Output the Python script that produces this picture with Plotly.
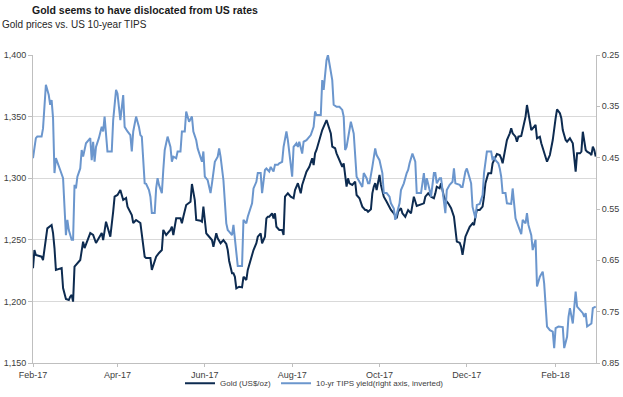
import plotly.graph_objects as go

# ---------------- data ----------------
gold_dates = [
"2017-02-01","2017-02-02","2017-02-03","2017-02-07","2017-02-08","2017-02-10","2017-02-11","2017-02-14","2017-02-15","2017-02-16","2017-02-17","2017-02-21","2017-02-22","2017-02-24","2017-02-26","2017-02-27","2017-02-28",
"2017-03-01","2017-03-02","2017-03-06","2017-03-08","2017-03-09","2017-03-13","2017-03-15","2017-03-17","2017-03-21","2017-03-22","2017-03-24","2017-03-27","2017-03-29","2017-03-30",
"2017-04-01","2017-04-03","2017-04-05","2017-04-07","2017-04-08","2017-04-11","2017-04-12","2017-04-14","2017-04-17","2017-04-18","2017-04-20","2017-04-21","2017-04-24","2017-04-25","2017-04-28","2017-04-30",
"2017-05-02","2017-05-03","2017-05-05","2017-05-08","2017-05-09","2017-05-10","2017-05-12","2017-05-15","2017-05-16","2017-05-17","2017-05-19","2017-05-22","2017-05-23","2017-05-25","2017-05-26","2017-05-29","2017-05-30","2017-05-31",
"2017-06-02","2017-06-03","2017-06-06","2017-06-07","2017-06-09","2017-06-10","2017-06-12","2017-06-14","2017-06-16","2017-06-17","2017-06-18","2017-06-20","2017-06-21","2017-06-22","2017-06-23","2017-06-25","2017-06-27","2017-06-28","2017-06-30",
"2017-07-01","2017-07-02","2017-07-04","2017-07-05","2017-07-07","2017-07-08","2017-07-10","2017-07-11","2017-07-13","2017-07-14","2017-07-15","2017-07-16","2017-07-18","2017-07-19","2017-07-20","2017-07-21","2017-07-23","2017-07-25","2017-07-26","2017-07-27","2017-07-29","2017-07-31",
"2017-08-02","2017-08-03","2017-08-05","2017-08-06","2017-08-07","2017-08-08","2017-08-10","2017-08-11","2017-08-13","2017-08-15","2017-08-16","2017-08-17","2017-08-18","2017-08-20","2017-08-22","2017-08-25","2017-08-26","2017-08-28","2017-08-29","2017-08-31",
"2017-09-01","2017-09-03","2017-09-05","2017-09-06","2017-09-08","2017-09-09","2017-09-10","2017-09-12","2017-09-14","2017-09-15","2017-09-17","2017-09-19","2017-09-21","2017-09-22","2017-09-23","2017-09-25","2017-09-26","2017-09-27","2017-09-28","2017-09-29",
"2017-10-01","2017-10-02","2017-10-04","2017-10-06","2017-10-08","2017-10-09","2017-10-11","2017-10-13","2017-10-14","2017-10-16","2017-10-17","2017-10-19","2017-10-20","2017-10-21","2017-10-23","2017-10-24","2017-10-25","2017-10-27","2017-10-29",
"2017-11-01","2017-11-02","2017-11-04","2017-11-06","2017-11-08","2017-11-09","2017-11-10","2017-11-12","2017-11-13","2017-11-15","2017-11-16","2017-11-18","2017-11-20","2017-11-22","2017-11-23","2017-11-24","2017-11-26","2017-11-27","2017-11-28","2017-11-30",
"2017-12-01","2017-12-03","2017-12-05","2017-12-06","2017-12-07","2017-12-08","2017-12-10","2017-12-12","2017-12-13","2017-12-14","2017-12-16","2017-12-18","2017-12-19","2017-12-21","2017-12-22","2017-12-24","2017-12-25","2017-12-26","2017-12-27","2017-12-28","2017-12-29","2017-12-31",
"2018-01-01","2018-01-02","2018-01-04","2018-01-05","2018-01-06","2018-01-08","2018-01-09","2018-01-11","2018-01-12","2018-01-13","2018-01-14","2018-01-15","2018-01-16","2018-01-18","2018-01-19","2018-01-21","2018-01-22","2018-01-24","2018-01-26","2018-01-28","2018-01-29","2018-01-30",
"2018-02-01","2018-02-02","2018-02-04","2018-02-05","2018-02-06","2018-02-08","2018-02-09","2018-02-11","2018-02-13","2018-02-14","2018-02-15","2018-02-16","2018-02-18","2018-02-19","2018-02-20","2018-02-22","2018-02-23","2018-02-25","2018-02-26","2018-02-27","2018-02-28",
"2018-03-01"]

gold_usd_oz = [
1226.9,1241.7,1237.7,1236.3,1233.6,1253.9,1259.3,1262.0,1255.5,1243.3,1225.5,1227.1,1210.9,1201.9,1201.1,1203.8,1205.2,
1199.8,1228.2,1233.6,1248.5,1243.3,1255.5,1253.9,1247.4,1255.5,1249.8,1264.7,1252.5,1272.8,1285.0,
1286.4,1290.4,1282.3,1283.9,1276.9,1270.1,1263.6,1266.1,1263.6,1255.5,1236.3,1235.2,1235.2,1225.5,1236.3,1239.3,
1241.7,1258.0,1253.9,1258.0,1260.6,1253.9,1267.4,1267.4,1263.4,1268.7,1278.2,1280.9,1295.3,1282.3,1266.1,1265.5,1264.7,1276.9,
1255.3,1253.9,1249.8,1244.4,1255.3,1251.2,1247.2,1249.8,1246.6,1241.7,1232.8,1222.8,1222.8,1220.0,1210.6,1211.9,1211.4,1220.0,1217.4,
1225.5,1229.5,1239.0,1241.7,1247.2,1252.5,1255.3,1247.2,1252.5,1267.4,1268.7,1268.7,1271.5,1267.4,1271.5,1260.6,1258.0,1258.0,1253.9,1285.0,1287.7,1285.0,
1283.7,1290.4,1295.9,1291.8,1287.7,1294.5,1301.2,1305.3,1309.3,1316.2,1310.7,1320.2,1322.9,1331.0,1339.1,1347.2,1343.2,1336.4,1325.6,1324.3,
1320.2,1314.8,1309.3,1312.1,1293.1,1299.9,1295.9,1294.5,1297.2,1286.4,1283.7,1276.9,1274.2,1274.2,1272.8,1274.8,1287.7,1293.1,1295.9,1290.4,
1302.6,1294.5,1285.0,1280.9,1276.9,1274.2,1271.5,1267.4,1272.8,1275.6,1271.5,1268.7,1271.5,1274.2,1271.5,1276.9,1285.0,1277.4,1278.2,
1279.6,1285.0,1287.7,1285.0,1283.7,1287.7,1293.1,1291.8,1295.9,1285.0,1282.3,1279.6,1275.6,1268.7,1258.0,1248.5,1247.6,1244.4,1237.7,1252.5,
1255.3,1260.6,1263.4,1262.0,1268.7,1274.2,1274.2,1276.9,1285.0,1295.9,1304.0,1304.0,1312.1,1317.4,1319.6,1318.8,1316.2,1312.1,1318.8,1322.9,1331.0,1336.4,
1340.5,1336.4,1333.7,1329.6,1333.7,1334.3,1339.1,1349.9,1359.4,1354.0,1345.9,1339.1,1340.5,1343.2,1332.4,1333.7,1328.3,1321.5,1313.4,1318.8,1324.3,1331.0,
1348.6,1355.9,1352.7,1348.6,1339.1,1331.0,1329.6,1332.4,1328.3,1317.5,1305.3,1320.2,1320.2,1321.5,1337.7,1322.9,1321.5,1320.2,1318.8,1325.6,1322.9,
1317.5]

tips_dates = [
"2017-02-01","2017-02-03","2017-02-04","2017-02-07","2017-02-08","2017-02-09","2017-02-10","2017-02-12","2017-02-13","2017-02-14","2017-02-15","2017-02-16","2017-02-17","2017-02-20","2017-02-22","2017-02-23","2017-02-24","2017-02-25","2017-02-26","2017-02-28",
"2017-03-01","2017-03-02","2017-03-03","2017-03-04","2017-03-06","2017-03-07","2017-03-08","2017-03-10","2017-03-13","2017-03-14","2017-03-15","2017-03-16","2017-03-17","2017-03-19","2017-03-21","2017-03-22","2017-03-23","2017-03-25","2017-03-28","2017-03-29","2017-03-31",
"2017-04-01","2017-04-03","2017-04-05","2017-04-06","2017-04-08","2017-04-10","2017-04-11","2017-04-12","2017-04-14","2017-04-16","2017-04-17","2017-04-18","2017-04-20","2017-04-21","2017-04-23","2017-04-24","2017-04-25","2017-04-27","2017-04-28","2017-04-29","2017-04-30",
"2017-05-02","2017-05-03","2017-05-04","2017-05-06","2017-05-07","2017-05-08","2017-05-09","2017-05-10","2017-05-12","2017-05-13","2017-05-15","2017-05-16","2017-05-18","2017-05-19","2017-05-21","2017-05-23","2017-05-24","2017-05-26","2017-05-27","2017-05-29","2017-05-30","2017-05-31",
"2017-06-01","2017-06-03","2017-06-04","2017-06-05","2017-06-06","2017-06-08","2017-06-10","2017-06-11","2017-06-12","2017-06-14","2017-06-16","2017-06-17","2017-06-18","2017-06-20","2017-06-21","2017-06-23","2017-06-24","2017-06-26","2017-06-27","2017-06-28","2017-06-30",
"2017-07-01","2017-07-04","2017-07-05","2017-07-07","2017-07-08","2017-07-10","2017-07-11","2017-07-13","2017-07-14","2017-07-16","2017-07-17","2017-07-19","2017-07-20","2017-07-22","2017-07-23","2017-07-25","2017-07-26","2017-07-28","2017-07-29","2017-07-30",
"2017-08-01","2017-08-02","2017-08-04","2017-08-05","2017-08-06","2017-08-08","2017-08-09","2017-08-11","2017-08-12","2017-08-14","2017-08-16","2017-08-17","2017-08-18","2017-08-21","2017-08-22","2017-08-23","2017-08-25","2017-08-26","2017-08-27","2017-08-29","2017-08-30",
"2017-09-01","2017-09-03","2017-09-05","2017-09-06","2017-09-07","2017-09-08","2017-09-10","2017-09-11","2017-09-13","2017-09-14","2017-09-15","2017-09-17","2017-09-19","2017-09-20","2017-09-22","2017-09-23","2017-09-24","2017-09-26","2017-09-28","2017-09-29",
"2017-10-01","2017-10-03","2017-10-04","2017-10-06","2017-10-08","2017-10-09","2017-10-11","2017-10-12","2017-10-14","2017-10-15","2017-10-16","2017-10-18","2017-10-20","2017-10-21","2017-10-22","2017-10-24","2017-10-26","2017-10-27","2017-10-30",
"2017-11-01","2017-11-02","2017-11-03","2017-11-05","2017-11-06","2017-11-08","2017-11-09","2017-11-10","2017-11-12","2017-11-13","2017-11-14","2017-11-16","2017-11-17","2017-11-19","2017-11-21","2017-11-22","2017-11-23","2017-11-26","2017-11-27","2017-11-28","2017-11-30",
"2017-12-01","2017-12-03","2017-12-04","2017-12-05","2017-12-07","2017-12-08","2017-12-10","2017-12-12","2017-12-13","2017-12-15","2017-12-18","2017-12-19","2017-12-20","2017-12-21","2017-12-23","2017-12-24","2017-12-25","2017-12-26","2017-12-28","2017-12-29","2017-12-31",
"2018-01-01","2018-01-02","2018-01-04","2018-01-06","2018-01-08","2018-01-09","2018-01-11","2018-01-12","2018-01-13","2018-01-15","2018-01-16","2018-01-18","2018-01-19","2018-01-21","2018-01-23","2018-01-24","2018-01-25","2018-01-26","2018-01-28","2018-01-30","2018-01-31",
"2018-02-01","2018-02-03","2018-02-06","2018-02-07","2018-02-09","2018-02-10","2018-02-11","2018-02-13","2018-02-14","2018-02-15","2018-02-16","2018-02-18","2018-02-20","2018-02-21","2018-02-22","2018-02-23","2018-02-25","2018-02-26","2018-02-27",
"2018-03-01"]

tips_yield = [
0.451,0.412,0.409,0.409,0.393,0.357,0.308,0.328,0.347,0.338,0.373,0.480,0.451,0.474,0.490,0.546,0.601,0.571,0.591,0.610,
0.610,0.503,0.510,0.487,0.471,0.435,0.448,0.422,0.412,0.455,0.419,0.458,0.429,0.412,0.390,0.399,0.370,0.438,0.438,0.377,0.318,
0.325,0.377,0.328,0.390,0.399,0.406,0.438,0.399,0.370,0.390,0.406,0.409,0.500,0.501,0.513,0.526,0.558,0.558,0.510,0.490,0.503,
0.519,0.474,0.435,0.409,0.419,0.429,0.458,0.448,0.451,0.438,0.438,0.399,0.399,0.360,0.380,0.370,0.399,0.416,0.432,0.448,0.458,0.438,
0.487,0.494,0.507,0.519,0.500,0.458,0.448,0.432,0.448,0.494,0.578,0.591,0.594,0.601,0.581,0.630,0.661,0.661,0.661,0.571,0.578,
0.565,0.539,0.510,0.497,0.480,0.480,0.519,0.474,0.471,0.477,0.468,0.477,0.464,0.464,0.461,0.458,0.429,0.399,0.416,0.442,
0.487,0.429,0.422,0.429,0.419,0.442,0.419,0.416,0.412,0.406,0.390,0.360,0.367,0.367,0.299,0.318,0.260,0.250,0.266,0.299,0.347,
0.351,0.351,0.357,0.370,0.435,0.429,0.396,0.380,0.403,0.438,0.487,0.497,0.507,0.480,0.490,0.500,0.500,0.468,0.432,0.445,
0.455,0.480,0.519,0.519,0.526,0.539,0.549,0.571,0.552,0.539,0.513,0.500,0.480,0.474,0.461,0.442,0.458,0.519,0.519,
0.480,0.513,0.490,0.513,0.526,0.480,0.480,0.500,0.490,0.490,0.513,0.558,0.513,0.503,0.497,0.471,0.500,0.503,0.507,0.507,0.477,
0.471,0.490,0.500,0.546,0.568,0.542,0.540,0.523,0.480,0.438,0.438,0.455,0.448,0.455,0.461,0.471,0.487,0.519,0.519,0.539,0.540,
0.540,0.510,0.568,0.584,0.599,0.571,0.578,0.558,0.581,0.601,0.630,0.610,0.701,0.682,0.672,0.695,0.740,0.779,0.786,0.789,0.821,
0.782,0.779,0.780,0.821,0.799,0.760,0.743,0.773,0.734,0.711,0.740,0.747,0.753,0.760,0.753,0.779,0.776,0.773,0.743,
0.740]

x_tick_dates = ["2017-02-01","2017-04-01","2017-06-01","2017-08-01","2017-10-01","2017-12-01","2018-02-01"]
x_tick_labels = ["Feb-17","Apr-17","Jun-17","Aug-17","Oct-17","Dec-17","Feb-18"]
left_ticks = [1150, 1200, 1250, 1300, 1350, 1400]
right_ticks = [0.25, 0.35, 0.45, 0.55, 0.65, 0.75, 0.85]

GOLD_COLOR = "#0d2b50"
TIPS_COLOR = "#6b96cd"
AXIS_COLOR = "#bfbfbf"
TEXT_COLOR = "#404040"
SANS = "Liberation Sans, Arial, sans-serif"
TICK_FONT = dict(family=SANS, size=9, color=TEXT_COLOR)

fig = go.Figure()
fig.add_trace(go.Scatter(x=gold_dates, y=gold_usd_oz, mode="lines", name="Gold (US$/oz)",
                         line=dict(color=GOLD_COLOR, width=2), yaxis="y"))
fig.add_trace(go.Scatter(x=tips_dates, y=tips_yield, mode="lines",
                         name="10-yr TIPS yield(right axis, inverted)",
                         line=dict(color=TIPS_COLOR, width=2), yaxis="y2"))

fig.update_layout(
    width=623, height=397,
    margin=dict(l=33, r=27, t=55, b=34, autoexpand=False),
    paper_bgcolor="white", plot_bgcolor="white",
    xaxis=dict(type="date", range=["2017-02-01", "2018-03-01 05:00"],
               tickvals=x_tick_dates, ticktext=x_tick_labels,
               showgrid=False, showline=True, linecolor=AXIS_COLOR, linewidth=1,
               ticks="outside", ticklen=3, tickcolor=AXIS_COLOR, tickfont=TICK_FONT,
               zeroline=False),
    yaxis=dict(range=[1150, 1400], tickvals=left_ticks, tickformat=",",
               showgrid=True, gridcolor="#d9d9d9", gridwidth=1,
               showline=True, linecolor=AXIS_COLOR, linewidth=1,
               ticks="outside", ticklen=4, tickcolor=AXIS_COLOR, tickfont=TICK_FONT,
               zeroline=False),
    yaxis2=dict(range=[0.85, 0.25], tickvals=right_ticks, tickformat=".2f",
                overlaying="y", side="right", showgrid=False,
                showline=True, linecolor=AXIS_COLOR, linewidth=1,
                ticks="outside", ticklen=3, tickcolor=AXIS_COLOR, tickfont=TICK_FONT,
                zeroline=False),
    showlegend=True,
    legend=dict(orientation="h", x=0.5, xanchor="center", y=-0.066, yanchor="middle",
                font=dict(family=SANS, size=8, color=TEXT_COLOR),
                bgcolor="rgba(0,0,0,0)", itemwidth=30, tracegroupgap=0),
    annotations=[
        dict(text="<b>Gold seems to have dislocated from US rates</b>", xref="paper", yref="paper",
             x=(145 - 33) / 563, y=(363 - 10) / 308, xanchor="center", yanchor="middle",
             showarrow=False, font=dict(family=SANS, size=10.5, color="#1a1a1a")),
        dict(text="Gold prices vs. US 10-year TIPS", xref="paper", yref="paper",
             x=(0 - 33) / 563, y=(363 - 24) / 308, xanchor="left", yanchor="middle",
             showarrow=False, font=dict(family=SANS, size=10, color="#262626")),
    ],
)

fig.write_html("out.html", config={"displayModeBar": False},
               post_script="document.body.style.margin='0';")
